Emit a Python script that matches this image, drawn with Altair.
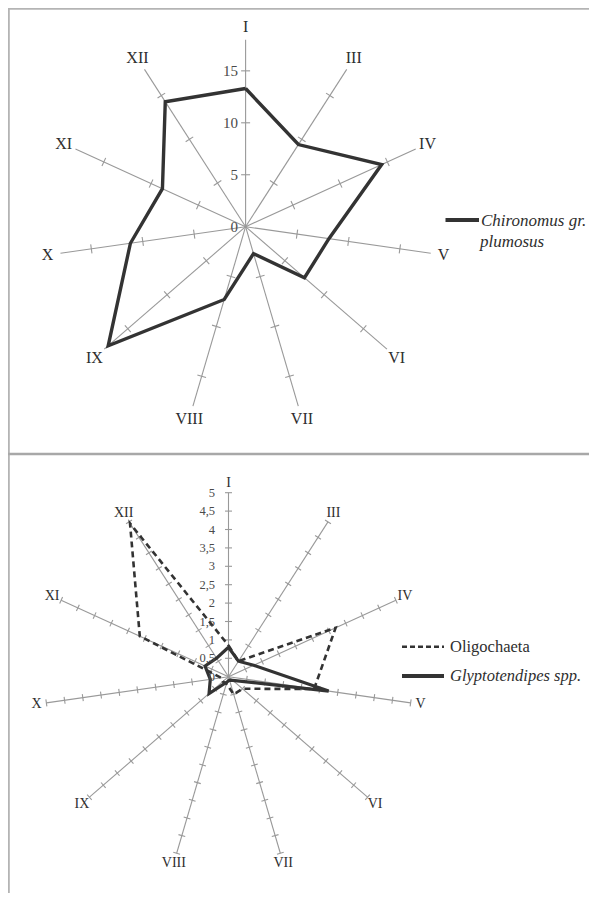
import math
import altair as alt
import pandas as pd

# ---------------- data ----------------
months = ["I", "III", "IV", "V", "VI", "VII", "VIII", "IX", "X", "XI", "XII"]
chironomus = [13.3, 9.4, 14.4, 8.1, 7.5, 2.7, 7.3, 17.5, 11.2, 8.8, 14.3]
oligochaeta = [0.85, 0.5, 3.2, 2.35, 0.5, 0.5, 0.2, 0.2, 0.2, 2.65, 4.95]
glyptotendipes = [0.8, 0.5, 0.75, 2.75, 0.15, 0.1, 0.15, 0.7, 0.5, 0.7, 0.6]

top_tick_values = [0, 5, 10, 15]
top_tick_labels = ["0", "5", "10", "15"]
top_max = 18

bottom_tick_values = [0, 0.5, 1, 1.5, 2, 2.5, 3, 3.5, 4, 4.5, 5]
bottom_tick_labels = ["0", "0,5", "1", "1,5", "2", "2,5", "3", "3,5", "4", "4,5", "5"]
bottom_max = 5

top_series = ["Chironomus gr.", "plumosus"]
bottom_series = ["Oligochaeta", "Glyptotendipes spp."]

# ---------------- layout ----------------
W, H = 581, 885
TOP = dict(cx=245.6, cy=226.7, ppu=10.39, label_r=200, tick_h=4.5)
BOT = dict(cx=228.5, cy=676.7, ppu=36.8, label_r=194, tick_h=3.5)
SERIF = "Liberation Serif"
AXIS_GREY = "#999999"
LINE_DARK = "#333333"
TEXT = "#2e2e2e"

xs = alt.Scale(domain=[8, 8 + W], nice=False, zero=False)
ys = alt.Scale(domain=[8 + H, 8], nice=False, zero=False)


def ang(k):
    return 2 * math.pi * k / len(months)


def pt(p, k, v):
    a = ang(k)
    r = v * p["ppu"]
    return p["cx"] + r * math.sin(a), p["cy"] - r * math.cos(a)


def spokes(p, vmax):
    rows = []
    for k in range(len(months)):
        x2, y2 = pt(p, k, vmax)
        rows.append(dict(x=p["cx"], y=p["cy"], x2=x2, y2=y2))
    return pd.DataFrame(rows)


def ticks(p, values):
    rows = []
    h = p["tick_h"]
    for k in range(len(months)):
        a = ang(k)
        for v in values:
            if v == 0:
                continue
            x, y = pt(p, k, v)
            rows.append(dict(x=x - h * math.cos(a), y=y - h * math.sin(a),
                             x2=x + h * math.cos(a), y2=y + h * math.sin(a)))
    return pd.DataFrame(rows)


def polygon(p, vals):
    rows = []
    for i, v in enumerate(vals + vals[:1]):
        k = i % len(months)
        x, y = pt(p, k, v)
        rows.append(dict(x=x, y=y, o=i))
    return pd.DataFrame(rows)


def cat_labels(p):
    rows = []
    for k, m in enumerate(months):
        a = ang(k)
        rows.append(dict(x=p["cx"] + p["label_r"] * math.sin(a),
                         y=p["cy"] - p["label_r"] * math.cos(a), t=m))
    return pd.DataFrame(rows)


def tick_labels(p, values, labels, xr):
    return pd.DataFrame([dict(x=xr, y=p["cy"] - v * p["ppu"], t=l)
                         for v, l in zip(values, labels)])


def rule_layer(df, color, width, dash=None):
    kw = dict(color=color, strokeWidth=width)
    if dash:
        kw["strokeDash"] = dash
    return alt.Chart(df).mark_rule(**kw).encode(
        x=alt.X("x:Q", scale=xs, axis=None),
        y=alt.Y("y:Q", scale=ys, axis=None),
        x2="x2:Q", y2="y2:Q")


def line_layer(df, color, width, dash=None):
    kw = dict(color=color, strokeWidth=width, strokeJoin="miter")
    if dash:
        kw["strokeDash"] = dash
    return alt.Chart(df).mark_line(**kw).encode(
        x=alt.X("x:Q", scale=xs, axis=None),
        y=alt.Y("y:Q", scale=ys, axis=None),
        order="o:Q")


def text_layer(df, size, align="center", style="normal", color=TEXT):
    return alt.Chart(df).mark_text(font=SERIF, fontSize=size, align=align,
                                   baseline="middle", fontStyle=style,
                                   color=color).encode(
        x=alt.X("x:Q", scale=xs, axis=None),
        y=alt.Y("y:Q", scale=ys, axis=None),
        text="t:N")


# frame
frame = pd.DataFrame([
    dict(x=8.8, y=8, x2=8.8, y2=8 + H),
    dict(x=8, y=8.8, x2=8 + W, y2=8.8),
])
divider = pd.DataFrame([dict(x=8, y=454, x2=8 + W, y2=454)])

# legends
leg_top_line = pd.DataFrame([dict(x=445.5, y=220, x2=479, y2=220)])
leg_top_text = pd.DataFrame([dict(x=481, y=221, t=top_series[0]),
                             dict(x=480, y=242, t=top_series[1])])
leg_b_dash = pd.DataFrame([dict(x=402, y=646.7, x2=444, y2=646.7)])
leg_b_solid = pd.DataFrame([dict(x=402, y=676, x2=444, y2=676)])
leg_b_t1 = pd.DataFrame([dict(x=450, y=646.7, t=bottom_series[0])])
leg_b_t2 = pd.DataFrame([dict(x=450, y=676, t=bottom_series[1])])

layers = [
    rule_layer(frame, "#b4b4b4", 2),
    rule_layer(divider, "#a8a8a8", 2.5),
    # top radar
    rule_layer(spokes(TOP, top_max), AXIS_GREY, 1.1),
    rule_layer(ticks(TOP, top_tick_values), AXIS_GREY, 1.1),
    line_layer(polygon(TOP, chironomus), LINE_DARK, 3.4),
    text_layer(tick_labels(TOP, top_tick_values, top_tick_labels, 238), 15, align="right", color="#4a4a4a"),
    text_layer(cat_labels(TOP), 16),
    rule_layer(leg_top_line, LINE_DARK, 4),
    text_layer(leg_top_text, 17, align="left", style="italic"),
    # bottom radar
    rule_layer(spokes(BOT, bottom_max), AXIS_GREY, 1.1),
    rule_layer(ticks(BOT, bottom_tick_values), AXIS_GREY, 1.1),
    line_layer(polygon(BOT, oligochaeta), LINE_DARK, 2.6, dash=[6, 4]),
    line_layer(polygon(BOT, glyptotendipes), LINE_DARK, 3.2),
    text_layer(tick_labels(BOT, bottom_tick_values, bottom_tick_labels, 215), 12.5, align="right", color="#4a4a4a"),
    text_layer(cat_labels(BOT), 14),
    rule_layer(leg_b_dash, LINE_DARK, 2.5, dash=[5, 3]),
    rule_layer(leg_b_solid, LINE_DARK, 4),
    text_layer(leg_b_t1, 16.5, align="left"),
    text_layer(leg_b_t2, 16.5, align="left", style="italic"),
]

chart = alt.layer(*layers).properties(
    width=W, height=H, padding=0,
    autosize=alt.AutoSizeParams(type="none"),
).configure_view(stroke=None)

chart.save("out.html", embed_options={"renderer": "svg", "actions": False})
